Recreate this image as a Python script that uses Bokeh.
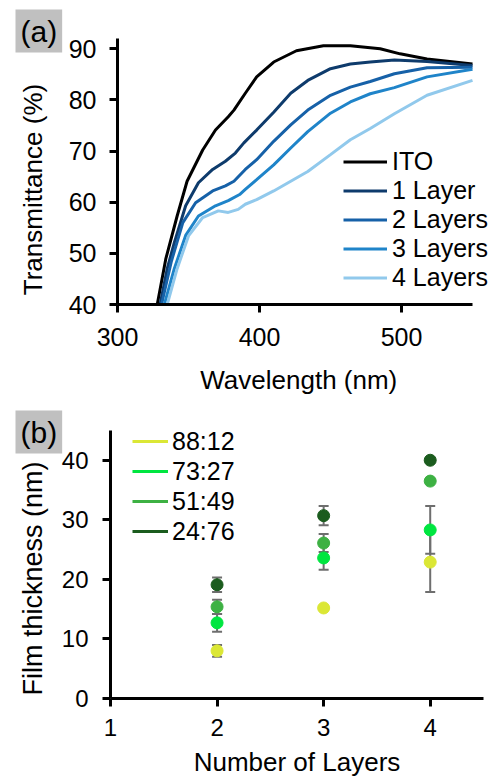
from bokeh.plotting import figure
from bokeh.models import (Legend, LegendItem, Whisker, TeeHead, ColumnDataSource,
                          Title, FixedTicker, Range1d)
from bokeh.layouts import column
from bokeh.embed import file_html
from bokeh.resources import INLINE

FONT = "Liberation Sans"
NB = "\u00a0"

# ---------------- Panel (a) data: transmittance spectra ----------------
ito_wl = [328, 334, 342, 349, 360, 369, 378, 382, 390, 398, 410, 426, 445, 464, 485, 499, 518, 550]
ito_t = [40, 48.9, 57.3, 64.1, 70.2, 74.1, 76.7, 78.0, 81.3, 84.5, 87.4, 89.6, 90.6, 90.6, 90.0, 89.0, 88.0, 87.0]

l1_wl = [330, 335, 340, 348, 357, 367, 376, 383, 389, 398, 410, 422, 434, 450, 464, 478, 495, 518, 550]
l1_t = [40, 47.0, 52.1, 59.3, 63.8, 66.4, 68.0, 69.6, 71.6, 74.1, 77.6, 81.3, 83.8, 86.1, 87.0, 87.4, 87.8, 87.5, 86.7]

l2_wl = [331, 338, 346, 355, 367, 376, 382, 390, 398, 410, 422, 434, 450, 464, 478, 495, 518, 550]
l2_t = [40, 48.5, 56.0, 59.9, 62.2, 63.2, 64.1, 66.4, 68.3, 71.9, 75.1, 78.0, 80.9, 82.5, 83.6, 85.1, 86.3, 86.4]

l3_wl = [333, 340, 348, 357, 369, 378, 386, 390, 398, 410, 422, 434, 450, 464, 478, 495, 518, 550]
l3_t = [40, 47.0, 53.5, 57.3, 59.3, 60.3, 61.5, 62.5, 64.4, 67.3, 70.6, 73.8, 77.4, 79.6, 81.2, 82.4, 84.5, 86.0]

l4_wl = [335, 342, 350, 360, 371, 378, 385, 390, 398, 410, 422, 434, 450, 464, 478, 495, 518, 550]
l4_t = [40, 47.0, 53.4, 57.0, 58.3, 58.0, 58.6, 59.6, 60.5, 62.2, 64.1, 66.0, 69.3, 72.2, 74.4, 77.3, 80.9, 83.8]

spec_names = ["ITO", "1 Layer", "2 Layers", "3 Layers", "4 Layers"]
spec_colors = ["#000000", "#0e3b6c", "#1661a8", "#1f84c9", "#91c9ec"]
spec_wl = [ito_wl, l1_wl, l2_wl, l3_wl, l4_wl]
spec_t = [ito_t, l1_t, l2_t, l3_t, l4_t]

a_xticks = [300, 400, 500]
a_yticks = [40, 50, 60, 70, 80, 90]

# ---------------- Panel (b) data: film thickness ----------------
layers = [2, 3, 4]
ratio_names = ["88:12", "73:27", "51:49", "24:76"]
ratio_colors = ["#dbe735", "#00e640", "#3db143", "#1b5c1e"]
thick_88_12 = [8.0, 15.2, 22.9]
thick_73_27 = [12.7, 23.6, 28.3]
thick_51_49 = [15.4, 26.1, 36.5]
thick_24_76 = [19.1, 30.7, 40.0]
err_88_12 = [1.0, 0.3, 5.0]
err_73_27 = [1.5, 2.0, 4.0]
err_51_49 = [1.2, 1.5, 0.3]
err_24_76 = [1.2, 1.6, 0.3]
thick = [thick_88_12, thick_73_27, thick_51_49, thick_24_76]
errs = [err_88_12, err_73_27, err_51_49, err_24_76]

b_xticks = [1, 2, 3, 4]
b_yticks = [0, 10, 20, 30, 40]


def style_axes(p, tick_px):
    for ax in (p.xaxis[0], p.yaxis[0]):
        ax.axis_line_width = 3
        ax.axis_line_color = "black"
        ax.major_tick_line_width = 3
        ax.major_tick_line_color = "black"
        ax.major_tick_in = 0
        ax.major_tick_out = 8
        ax.minor_tick_line_color = None
        ax.major_label_text_font = FONT
        ax.major_label_text_font_size = tick_px
        ax.major_label_text_color = "black"
        ax.axis_label_text_font = FONT
        ax.axis_label_text_font_size = "26px"
        ax.axis_label_text_font_style = "normal"
        ax.axis_label_text_color = "black"
    p.grid.visible = False
    p.outline_line_color = None
    p.background_fill_color = "white"
    p.border_fill_color = "white"


def panel_title(text, offset, standoff):
    return Title(text=text, align="left", vertical_align="bottom", offset=offset,
                 standoff=standoff, text_font=FONT, text_font_size="30px",
                 text_font_style="normal", text_color="black",
                 background_fill_color="#c0c0c0", padding=5)


# ---------------- Figure (a) ----------------
pa = figure(width=494, height=397, output_backend="svg", toolbar_location=None,
            title=panel_title("(a)", -102, -28), frame_align=False,
            x_range=Range1d(300, 565.5), y_range=Range1d(40, 92),
            min_border_left=117, min_border_right=0, min_border_top=38, min_border_bottom=91)
style_axes(pa, "25px")
pa.xaxis.bounds = (300, 550)
pa.xaxis.ticker = FixedTicker(ticks=a_xticks)
pa.yaxis.ticker = FixedTicker(ticks=a_yticks)
pa.xaxis.axis_label = "Wavelength (nm)" + NB * 2
pa.yaxis.axis_label = "Transmittance (%)" + NB * 5
pa.xaxis.major_label_standoff = 15
pa.xaxis.axis_label_standoff = 16
pa.yaxis.major_label_standoff = 13
pa.yaxis.axis_label_standoff = 18

items_a = []
for name, col, wl, t in zip(spec_names, spec_colors, spec_wl, spec_t):
    src = ColumnDataSource(dict(x=wl, y=t))
    r = pa.line("x", "y", source=src, line_color=col, line_width=3)
    items_a.append(LegendItem(label=name, renderers=[r]))

leg_a = Legend(items=items_a, location=(226, 12), orientation="vertical",
               glyph_width=44, glyph_height=29, label_height=29, label_standoff=5,
               spacing=0, padding=0, margin=0, border_line_alpha=0,
               background_fill_alpha=0, label_text_font=FONT,
               label_text_font_size="25px", label_text_color="black")
pa.add_layout(leg_a)

# ---------------- Figure (b) ----------------
pb = figure(width=494, height=384, output_backend="svg", toolbar_location=None,
            title=panel_title("(b)", -95, -80), frame_align=False,
            x_range=Range1d(1, 4.5), y_range=Range1d(0, 47.85),
            min_border_left=110, min_border_right=11, min_border_top=16, min_border_bottom=83)
style_axes(pb, "24px")
pb.yaxis.bounds = (0, 45)
pb.xaxis.ticker = FixedTicker(ticks=b_xticks)
pb.yaxis.ticker = FixedTicker(ticks=b_yticks)
pb.xaxis.axis_label = "Number of Layers"
pb.yaxis.axis_label = "Film thickness (nm)" + NB * 6
pb.yaxis.axis_label_text_font_size = "27px"
pb.xaxis.major_label_standoff = 12
pb.xaxis.axis_label_standoff = 8
pb.yaxis.major_label_standoff = 14
pb.yaxis.axis_label_standoff = 11

items_b = []
for name, col, vals, e in zip(ratio_names, ratio_colors, thick, errs):
    src = ColumnDataSource(dict(x=layers, y=vals,
                                upper=[v + d for v, d in zip(vals, e)],
                                lower=[v - d for v, d in zip(vals, e)]))
    w = Whisker(base="x", upper="upper", lower="lower", source=src,
                line_color="#6e6e6e", line_width=2,
                upper_head=TeeHead(size=10, line_color="#6e6e6e", line_width=2),
                lower_head=TeeHead(size=10, line_color="#6e6e6e", line_width=2))
    pb.add_layout(w)
for name, col, vals in zip(ratio_names, ratio_colors, thick):
    src = ColumnDataSource(dict(x=layers, y=vals))
    pb.scatter("x", "y", source=src, size=12, fill_color=col, line_color=col)
    lr = pb.line(x=[float("nan")], y=[float("nan")], line_color=col, line_width=3)
    items_b.append(LegendItem(label=name, renderers=[lr]))

leg_b = Legend(items=items_b, location=(22, 152), orientation="vertical",
               glyph_width=36, glyph_height=30, label_height=30, label_standoff=4,
               spacing=0, padding=0, margin=0, border_line_alpha=0,
               background_fill_alpha=0, label_text_font=FONT,
               label_text_font_size="25px", label_text_color="black")
pb.add_layout(leg_b)

layout = column(pa, pb)
open("out.html", "w").write(file_html(layout, INLINE))
